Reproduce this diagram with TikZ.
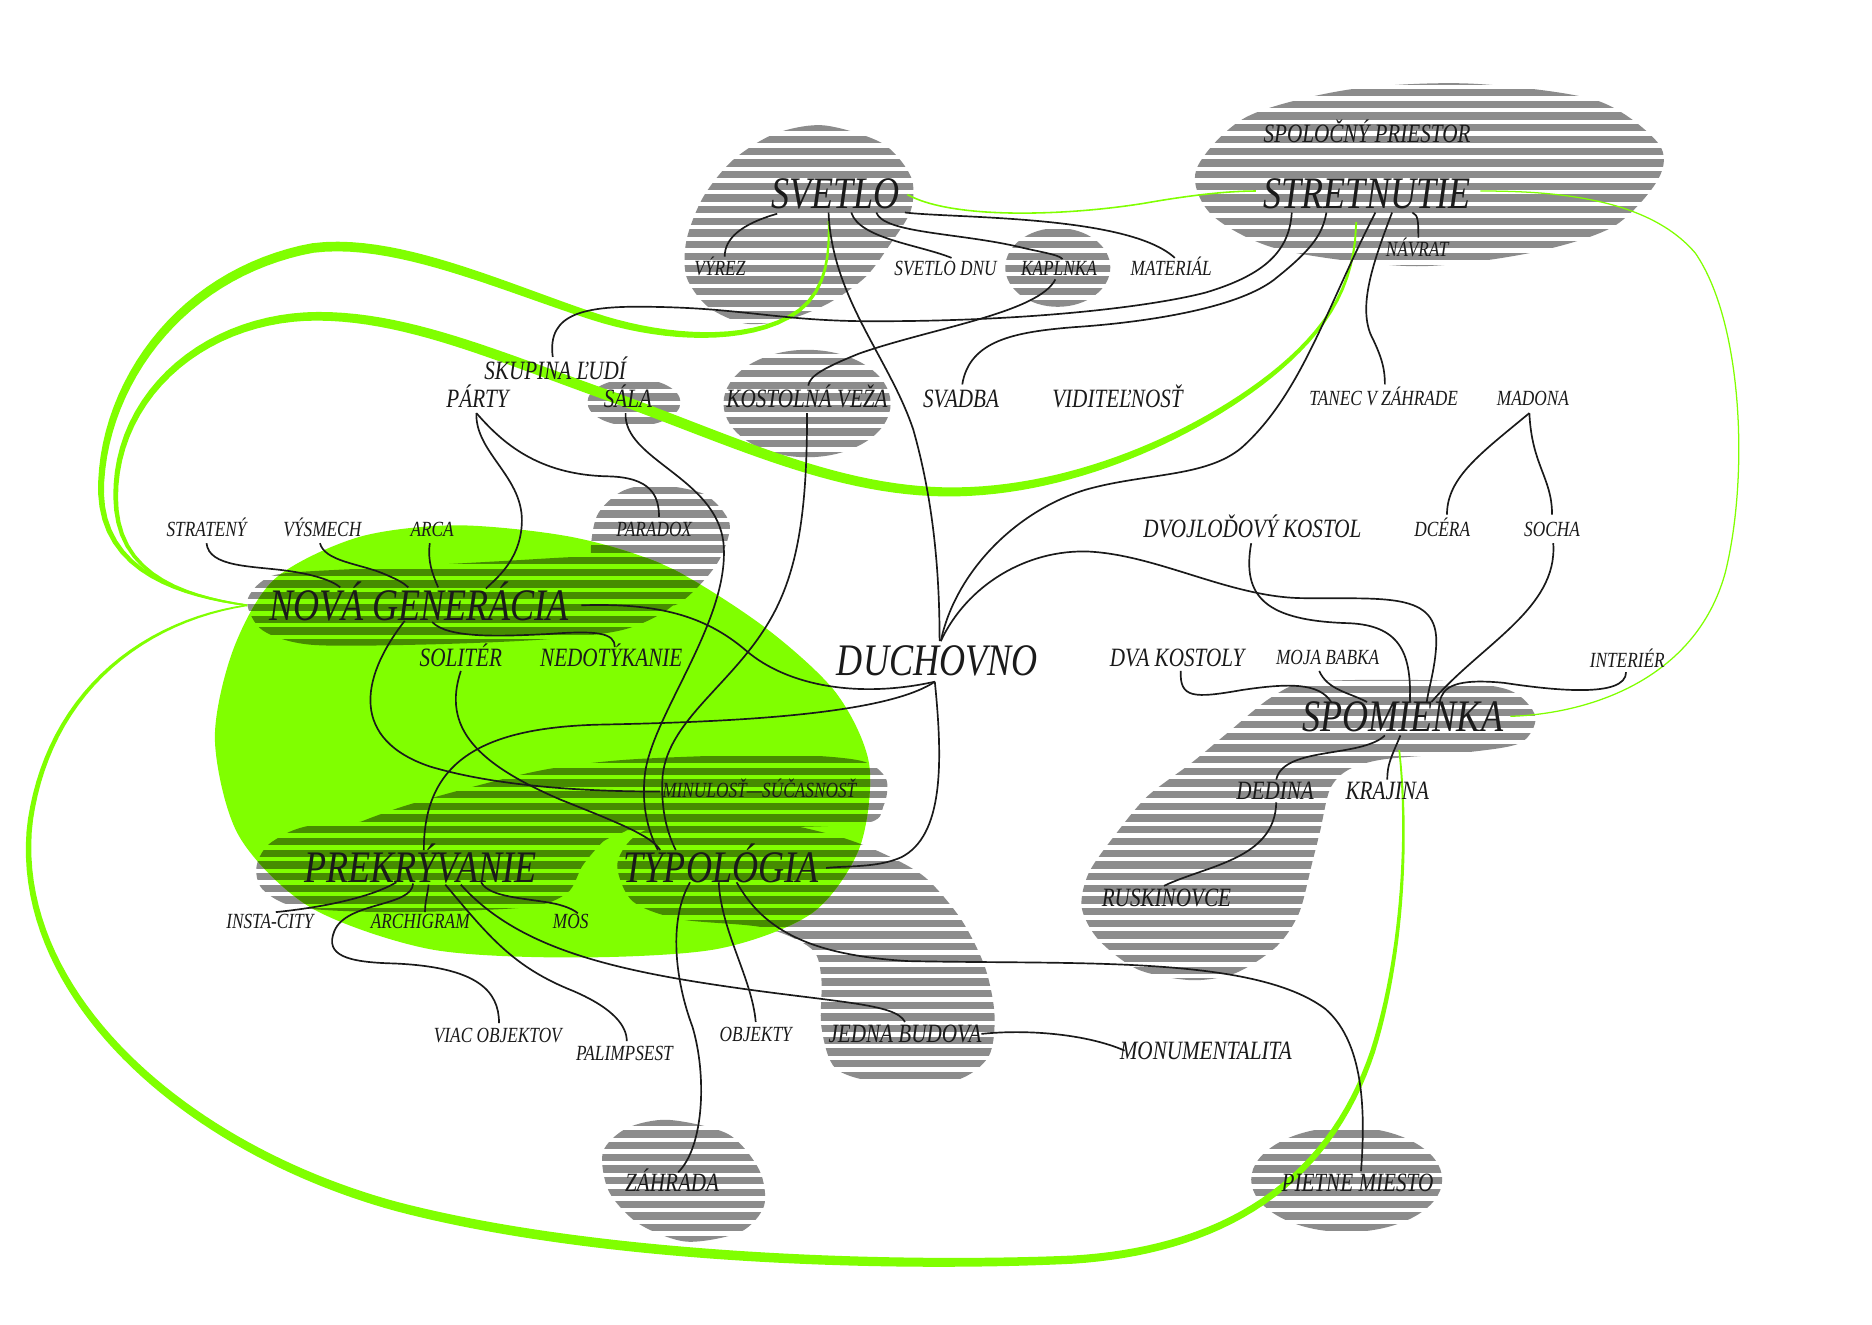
\documentclass[tikz,border=0pt]{standalone}
\usepackage{fontspec}
\setmainfont{Liberation Serif}[FakeStretch=0.8]
\usetikzlibrary{calc,decorations.markings}
\definecolor{ink}{HTML}{1A1A1A}
\definecolor{stripe}{HTML}{8C8C8C}
\definecolor{leaf}{HTML}{80FF00}
\definecolor{moss}{HTML}{468C00}
\pgfdeclarelayer{bg}
\pgfsetlayers{bg,main}
\newcommand\stripes[1]{\foreach \k in {0,...,106}{\fill[#1] (0,{55+9.8*\k}) rectangle (1568,{61.1+9.8*\k});}}
\newcommand\bandmark[2]{%
  \pgfmathsetmacro\banddist{\pgfkeysvalueof{/pgf/decoration/mark info/distance from start}}%
  \pgfmathsetmacro\bandpos{\banddist/\pgfdecoratedpathlength}%
  \pgfmathtruncatemacro\bandidx{round(\banddist/6)}%
  \pgfmathsetmacro\bandw{0.4+#2*sin(180*\bandpos)}%
  \coordinate (#1a\bandidx) at (0pt,\bandw pt);%
  \coordinate (#1b\bandidx) at (0pt,-\bandw pt);%
  \xdef\bandlast{\bandidx}}
\tikzset{
  svetloblob/.style={insert path={plot[smooth cycle] coordinates {(690,105) (739,120) (763,148) (763,176) (746,204) (725,232) (694,254) (659,268) (624,271) (593,257) (575,232) (575,201) (589,165) (614,134) (649,112)}}},
  kaplnkablob/.style={insert path={(886,224) ellipse [x radius=44, y radius=33]}},
  stretblob/.style={insert path={plot[smooth cycle] coordinates {(1231,70) (1337,84) (1389,120) (1389,150) (1351,190) (1281,212) (1184,223) (1072,209) (1015,180) (1002,142) (1044,98) (1130,75)}}},
  salablob/.style={insert path={(531,337) ellipse [x radius=39, y radius=20]}},
  vezablob/.style={insert path={(676,338) ellipse [x radius=70, y radius=45]}},
  paradoxblob/.style={insert path={plot[smooth cycle] coordinates {(548,406) (590,414) (611,438) (604,466) (588,488) (565,507) (540,500) (505,488) (495,465) (500,432) (520,412)}}},
  ngblob/.style={insert path={plot[smooth cycle] coordinates {(240,480) (330,475) (420,470) (500,466) (560,470) (580,484) (560,510) (520,528) (450,536) (350,540) (260,540) (220,528) (207,505) (218,488)}}},
  minblob/.style={insert path={plot[smooth cycle] coordinates {(530,636) (650,632) (720,637) (742,652) (740,675) (722,690) (600,694) (480,696) (380,697) (290,697) (330,678) (400,658) (460,644)}}},
  prekblob/.style={insert path={plot[smooth cycle] coordinates {(270,690) (400,688) (522,692) (505,705) (488,725) (475,748) (440,760) (330,764) (250,760) (220,745) (215,725) (228,705)}}},
  typblob/.style={insert path={plot[smooth cycle] coordinates {(560,690) (640,688) (700,700) (740,715) (775,735) (805,770) (825,810) (833,850) (828,885) (800,905) (740,907) (700,895) (688,860) (688,820) (680,795) (640,777) (570,770) (530,755) (517,725) (530,702)}}},
  spomblob/.style={insert path={plot[smooth cycle] coordinates {(1099,571) (1204,570) (1264,578) (1286,600) (1274,622) (1230,630) (1159,636) (1129,645) (1114,661) (1106,695) (1099,723) (1088,765) (1069,793) (1035,815) (998,821) (953,812) (920,787) (906,760) (912,731) (935,698) (961,667) (998,639) (1028,614) (1065,584)}}},
  zahradablob/.style={insert path={plot[smooth cycle] coordinates {(560,938) (610,950) (636,980) (640,1010) (620,1032) (575,1040) (535,1025) (510,998) (505,965) (525,945)}}},
  pietneblob/.style={insert path={(1128,988) ellipse [x radius=80, y radius=44]}},
  greenblob/.style={insert path={plot[smooth cycle] coordinates {(383,440) (480,450) (560,475) (640,525) (700,580) (728,640) (720,710) (680,765) (600,795) (480,802) (360,795) (260,760) (200,700) (180,620) (195,545) (230,485) (300,450)}}},
}
\begin{document}
\begin{tikzpicture}[
    x=0.2mm, y=-0.2mm,
    every node/.style={inner sep=0pt, text depth=0pt, text=ink},
    word/.style={font=\itshape\fontsize{10.3}{10}\selectfont, text height=6.8pt},
    topic/.style={font=\itshape\fontsize{12.6}{12}\selectfont, text height=8.3pt},
    theme/.style={font=\itshape\fontsize{21.5}{21}\selectfont, text height=14.2pt},
    link/.style={draw=ink, line width=0.8pt},
    thread/.style={draw=leaf, line width=0.75pt},
    band/.style 2 args={decorate, decoration={markings,
        mark=between positions 0 and 1 step 6pt with {\bandmark{#1}{#2}},
        mark=at position 0.9999 with {\bandmark{#1}{#2}}}},
]
  \node [theme] (svetlo)      at (700,162)  {SVETLO};
  \node [theme] (stretnutie)  at (1145,162) {STRETNUTIE};
  \node [topic] (spolocny)    at (1145,112) {SPOLOČNÝ PRIESTOR};
  \node [word]  (vyrez)       at (603,225)  {VÝREZ};
  \node [word]  (svetlodnu)   at (792,225)  {SVETLO DNU};
  \node [word]  (kaplnka)     at (887,225)  {KAPLNKA};
  \node [word]  (material)    at (981,225)  {MATERIÁL};
  \node [word]  (navrat)      at (1187,209) {NÁVRAT};
  \node [topic] (skupina)     at (465,311)  {SKUPINA ĽUDÍ};
  \node [topic] (party)       at (400,334)  {PÁRTY};
  \node [topic] (sala)        at (526,334)  {SÁLA};
  \node [topic] (veza)        at (676,334)  {KOSTOLNÁ VEŽA};
  \node [topic] (svadba)      at (805,334)  {SVADBA};
  \node [topic] (viditelnost) at (936,334)  {VIDITEĽNOSŤ};
  \node [word]  (tanec)       at (1159,334) {TANEC V ZÁHRADE};
  \node [word]  (madona)      at (1284,334) {MADONA};
  \node [word]  (strateny)    at (173,443)  {STRATENÝ};
  \node [word]  (vysmech)     at (270,443)  {VÝSMECH};
  \node [word]  (arca)        at (362,443)  {ARCA};
  \node [word]  (paradox)     at (548,443)  {PARADOX};
  \node [topic] (dvojlodovy)  at (1049,443) {DVOJLOĎOVÝ KOSTOL};
  \node [word]  (dcera)       at (1208,443) {DCÉRA};
  \node [word]  (socha)       at (1300,443) {SOCHA};
  \node [theme] (novagen)     at (351,507)  {NOVÁ GENERÁCIA};
  \node [topic] (soliter)     at (386,551)  {SOLITÉR};
  \node [topic] (nedotykanie) at (512,551)  {NEDOTÝKANIE};
  \node [theme] (duchovno)    at (785,553)  {DUCHOVNO};
  \node [topic] (dvakostoly)  at (986,551)  {DVA KOSTOLY};
  \node [word]  (babka)       at (1112,551) {MOJA BABKA};
  \node [word]  (interier)    at (1363,553) {INTERIÉR};
  \node [theme] (spomienka)   at (1175,600) {SPOMIENKA};
  \node [word]  (minulost)    at (636,662)  {MINULOSŤ---SÚČASNOSŤ};
  \node [topic] (dedina)      at (1068,662) {DEDINA};
  \node [topic] (krajina)     at (1162,662) {KRAJINA};
  \node [theme] (prekryvanie) at (352,727)  {PREKRÝVANIE};
  \node [theme] (typologia)   at (604,727)  {TYPOLÓGIA};
  \node [topic] (ruskinovce)  at (977,752)  {RUSKINOVCE};
  \node [word]  (instacity)   at (226,772)  {INSTA-CITY};
  \node [word]  (archigram)   at (352,772)  {ARCHIGRAM};
  \node [word]  (mos)         at (478,772)  {MOS};
  \node [word]  (viac)        at (417,867)  {VIAC OBJEKTOV};
  \node [word]  (palimpsest)  at (523,882)  {PALIMPSEST};
  \node [word]  (objekty)     at (633,866)  {OBJEKTY};
  \node [topic] (jedna)       at (758,866)  {JEDNA BUDOVA};
  \node [topic] (monument)    at (1010,880) {MONUMENTALITA};
  \node [topic] (zahrada)     at (563,991)  {ZÁHRADA};
  \node [topic] (pietne)      at (1137,991) {PIETNE MIESTO};

  \begin{pgfonlayer}{bg}
    \fill[white] (0,0) rectangle (1568,1109);
    \foreach \b in {svetloblob,kaplnkablob,stretblob,salablob,vezablob,paradoxblob,ngblob,minblob,prekblob,typblob,spomblob,zahradablob,pietneblob}
      {\begin{scope} \clip[\b]; \stripes{stripe} \end{scope}}
    \fill[leaf, greenblob];
    \begin{scope}
      \clip[greenblob];
      \foreach \b in {paradoxblob,ngblob,minblob,prekblob,typblob}
        {\begin{scope} \clip[\b]; \stripes{moss} \end{scope}}
    \end{scope}

    \path[band={o}{1.9}] ($(novagen)+(-144,0)$) .. controls (120,495) and (80,460) .. (85,400) .. controls (90,320) and (150,230) .. (260,208) .. controls (330,198) and (420,240) .. (500,266) .. controls (570,288) and (640,285) .. (672,258) .. controls (692,240) and (695,215) .. ($(svetlo)+(-6,23)$);
    \fill[leaf] (oa0) \foreach \i in {1,...,\bandlast}{-- (oa\i)} \foreach \i in {\bandlast,...,0}{-- (ob\i)} -- cycle;
    \path[band={n}{2.1}] ($(novagen)+(-144,0)$) .. controls (120,495) and (95,460) .. (97,410) .. controls (100,330) and (170,268) .. (260,265) .. controls (340,263) and (420,300) .. (520,335) .. controls (620,372) and (700,410) .. (790,412) .. controls (900,414) and (1010,360) .. (1070,310) .. controls (1120,268) and (1135,230) .. ($(stretnutie)+(-9,24)$);
    \fill[leaf] (na0) \foreach \i in {1,...,\bandlast}{-- (na\i)} \foreach \i in {\bandlast,...,0}{-- (nb\i)} -- cycle;
    \path[band={u}{1.9}] ($(novagen)+(-144,0)$) .. controls (120,520) and (40,580) .. (25,690) .. controls (10,830) and (150,960) .. (330,1010) .. controls (500,1055) and (750,1062) .. (900,1055) .. controls (1050,1045) and (1120,970) .. (1150,880) .. controls (1175,800) and (1180,700) .. ($(spomienka)+(-3,28)$);
    \fill[leaf] (ua0) \foreach \i in {1,...,\bandlast}{-- (ua\i)} \foreach \i in {\bandlast,...,0}{-- (ub\i)} -- cycle;

    \draw[thread] ($(svetlo)+(60,1)$) .. controls (800,185) and (900,180) .. (960,170) .. controls (1000,163) and (1030,160) .. ($(stretnutie)+(-93,-2)$);
    \draw[thread, line width=0.6pt] ($(stretnutie)+(95,-2)$) .. controls (1300,160) and (1380,165) .. (1420,212) .. controls (1460,270) and (1465,400) .. (1445,480) .. controls (1420,570) and (1330,598) .. ($(spomienka)+(90,0)$);
  \end{pgfonlayer}

  \draw[link] ($(svetlo)+(-49,17)$) .. controls (620,188) and (607,200) .. ($(vyrez)+(4,-10)$);
  \draw[link] ($(svetlo)+(13,16)$) .. controls (720,200) and (770,205) .. ($(svetlodnu)+(5,-9)$);
  \draw[link] ($(svetlo)+(34,16)$) .. controls (740,195) and (800,195) .. (850,206) .. controls (875,212) and (886,213) .. ($(kaplnka)+(3,-8)$);
  \draw[link] ($(svetlo)+(58,16)$) .. controls (800,183) and (945,180) .. ($(material)+(3,-9)$);
  \draw[link] ($(svetlo)+(-6,16)$) .. controls (697,250) and (745,300) .. (765,360) .. controls (782,420) and (787,480) .. ($(duchovno)+(2,-16)$);
  \draw[link] ($(kaplnka)+(-3,9)$) .. controls (870,262) and (780,275) .. (720,296) .. controls (690,308) and (678,315) .. ($(veza)+(1,-11)$);
  \draw[link] ($(skupina)+(-2,-12)$) .. controls (458,262) and (490,256) .. (545,257) .. controls (620,258) and (650,268) .. (720,269) .. controls (850,270) and (960,258) .. (1010,245) .. controls (1060,230) and (1080,210) .. ($(stretnutie)+(-63,16)$);
  \draw[link] ($(svadba)+(1,-12)$) .. controls (812,285) and (850,278) .. (900,274) .. controls (960,270) and (1040,258) .. (1070,232) .. controls (1100,208) and (1108,195) .. ($(stretnutie)+(-34,16)$);
  \draw[link] ($(stretnutie)+(7,16)$) .. controls (1110,260) and (1090,330) .. (1040,375) .. controls (1010,400) and (960,396) .. (910,410) .. controls (850,428) and (800,480) .. ($(duchovno)+(3,-16)$);
  \draw[link] ($(stretnutie)+(21,16)$) .. controls (1150,220) and (1138,255) .. (1148,280) .. controls (1158,300) and (1160,310) .. ($(tanec)+(1,-12)$);
  \draw[link] ($(stretnutie)+(38,16)$) .. controls (1188,180) and (1188,186) .. ($(navrat)+(1,-10)$);
  \draw[link] ($(party)+(-1,12)$) .. controls (398,380) and (440,400) .. (437,440) .. controls (435,470) and (415,485) .. ($(novagen)+(56,-14)$);
  \draw[link] ($(party)+(-1,12)$) .. controls (420,370) and (450,398) .. (510,399) .. controls (545,400) and (552,415) .. ($(paradox)+(4,-10)$);
  \draw[link] ($(sala)+(-2,12)$) .. controls (522,385) and (600,400) .. (606,455) .. controls (612,520) and (545,600) .. (540,650) .. controls (537,680) and (545,700) .. ($(typologia)+(-53,-15)$);
  \draw[link] ($(veza)+(0,12)$) .. controls (676,420) and (670,470) .. (650,510) .. controls (620,570) and (560,600) .. (555,650) .. controls (553,680) and (560,700) .. ($(typologia)+(-38,-15)$);
  \draw[link] ($(strateny)+(0,12)$) .. controls (175,475) and (210,474) .. (240,478) .. controls (262,481) and (278,486) .. ($(novagen)+(-66,-15)$);
  \draw[link] ($(vysmech)+(-2,12)$) .. controls (272,470) and (300,472) .. (320,480) .. controls (332,485) and (338,488) .. ($(novagen)+(-9,-15)$);
  \draw[link] ($(arca)+(-2,12)$) .. controls (358,470) and (362,480) .. ($(novagen)+(16,-15)$);
  \draw[link] ($(novagen)+(136,0)$) .. controls (550,505) and (590,515) .. (625,545) .. controls (660,575) and (720,585) .. ($(duchovno)+(-2,18)$);
  \draw[link] ($(novagen)+(-12,13)$) .. controls (300,570) and (295,620) .. (360,642) .. controls (420,660) and (500,663) .. ($(minulost)+(-83,1)$);
  \draw[link] ($(novagen)+(11,14)$) .. controls (375,535) and (420,533) .. (460,531) .. controls (500,528) and (515,530) .. ($(nedotykanie)+(3,-9)$);
  \draw[link] ($(soliter)+(0,11)$) .. controls (370,610) and (400,640) .. (470,670) .. controls (520,690) and (545,700) .. ($(typologia)+(-51,-15)$);
  \draw[link] ($(duchovno)+(-2,18)$) .. controls (740,600) and (600,605) .. (500,607) .. controls (400,610) and (355,640) .. ($(prekryvanie)+(3,-15)$);
  \draw[link] ($(duchovno)+(-2,18)$) .. controls (790,640) and (790,700) .. (755,718) .. controls (735,727) and (710,725) .. ($(typologia)+(88,0)$);
  \draw[link] ($(duchovno)+(3,-16)$) .. controls (810,490) and (860,460) .. (912,462) .. controls (970,465) and (1030,500) .. (1090,501) .. controls (1160,502) and (1205,495) .. (1203,540) .. controls (1202,560) and (1197,575) .. ($(spomienka)+(20,-12)$);
  \draw[link] ($(dvojlodovy)+(-1,12)$) .. controls (1040,500) and (1060,520) .. (1130,522) .. controls (1175,524) and (1182,550) .. ($(spomienka)+(6,-12)$);
  \draw[link] ($(madona)+(-3,12)$) .. controls (1240,380) and (1212,400) .. ($(dcera)+(4,-12)$);
  \draw[link] ($(madona)+(-3,12)$) .. controls (1283,390) and (1300,400) .. ($(socha)+(0,-12)$);
  \draw[link] ($(socha)+(1,12)$) .. controls (1305,510) and (1240,540) .. ($(spomienka)+(24,-12)$);
  \draw[link] ($(dvakostoly)+(3,11)$) .. controls (988,585) and (1000,585) .. (1040,578) .. controls (1080,572) and (1105,572) .. ($(spomienka)+(-60,-12)$);
  \draw[link] ($(babka)+(-7,11)$) .. controls (1112,578) and (1130,580) .. ($(spomienka)+(-30,-12)$);
  \draw[link] ($(interier)+(-1,10)$) .. controls (1362,585) and (1300,578) .. (1260,572) .. controls (1220,568) and (1208,575) .. ($(spomienka)+(31,-12)$);
  \draw[link] ($(spomienka)+(-15,16)$) .. controls (1140,635) and (1075,625) .. ($(dedina)+(1,-9)$);
  \draw[link] ($(dedina)+(1,10)$) .. controls (1068,720) and (1010,725) .. ($(ruskinovce)+(-2,-10)$);
  \draw[link] ($(spomienka)+(-2,16)$) .. controls (1165,635) and (1162,640) .. ($(krajina)+(0,-9)$);
  \draw[link] ($(prekryvanie)+(-20,12)$) .. controls (310,752) and (270,760) .. ($(instacity)+(5,-8)$);
  \draw[link] ($(prekryvanie)+(-6,13)$) .. controls (345,760) and (290,755) .. (280,780) .. controls (272,800) and (290,806) .. (330,807) .. controls (400,810) and (418,830) .. ($(viac)+(1,-10)$);
  \draw[link] ($(prekryvanie)+(7,14)$) .. controls (358,750) and (356,755) .. ($(archigram)+(4,-8)$);
  \draw[link] ($(prekryvanie)+(21,14)$) .. controls (410,785) and (430,810) .. (480,830) .. controls (515,845) and (525,860) .. ($(palimpsest)+(2,-10)$);
  \draw[link] ($(prekryvanie)+(34,14)$) .. controls (430,790) and (500,810) .. (600,825) .. controls (700,840) and (750,840) .. ($(jedna)+(0,-10)$);
  \draw[link] ($(prekryvanie)+(51,12)$) .. controls (410,752) and (440,752) .. (465,757) .. controls (478,760) and (483,764) .. ($(mos)+(6,-7)$);
  \draw[link] ($(typologia)+(-26,12)$) .. controls (560,770) and (565,820) .. (580,860) .. controls (592,900) and (590,960) .. ($(zahrada)+(5,-9)$);
  \draw[link] ($(typologia)+(-2,12)$) .. controls (604,780) and (630,820) .. ($(objekty)+(0,-10)$);
  \draw[link] ($(typologia)+(13,12)$) .. controls (640,780) and (680,800) .. (760,805) .. controls (900,808) and (1050,800) .. (1110,845) .. controls (1145,875) and (1143,940) .. ($(pietne)+(3,-10)$);
  \draw[link] ($(jedna)+(64,0)$) .. controls (860,862) and (910,866) .. ($(monument)+(-68,0)$);
\end{tikzpicture}
\end{document}
